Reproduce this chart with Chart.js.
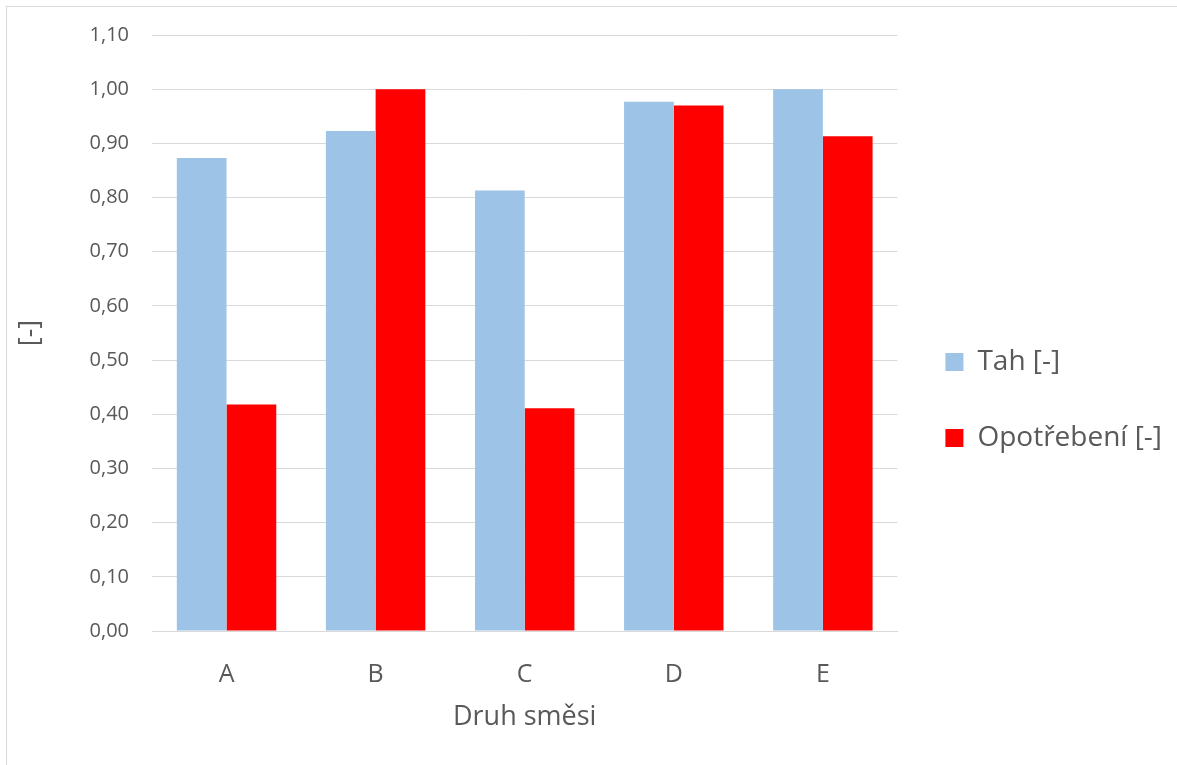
<!DOCTYPE html>
<html>
<head>
<meta charset="utf-8">
<script src="https://cdn.jsdelivr.net/npm/chart.js@4"></script>
<style>
  html, body { margin: 0; padding: 0; background: #fff; }
  .wrap { position: relative; width: 1177px; height: 765px; overflow: hidden; }
  .frame { position: absolute; left: 6px; top: 6px; width: 1300px; height: 900px; border: 1px solid #d9d9d9; }
  canvas { position: absolute; left: 0; top: 0; }
</style>
</head>
<body>
<div class="wrap">
  <div class="frame"></div>
  <canvas id="chart" width="1177" height="765"></canvas>
</div>
<script>
// data
const categories = ['A', 'B', 'C', 'D', 'E'];
const tahValues = [0.873, 0.923, 0.813, 0.977, 1.0];
const opotrebeniValues = [0.418, 1.0, 0.411, 0.970, 0.913];
const seriesNames = ['Tah [-]', 'Opotřebení [-]'];

const textColor = '#595959';
const gridColor = '#d9d9d9';
const fontFamily = "'Open Sans', sans-serif";

const ctx = document.getElementById('chart').getContext('2d');

new Chart(ctx, {
    type: 'bar',
    data: {
        labels: categories,
        datasets: [
            {
                label: seriesNames[0],
                data: tahValues,
                backgroundColor: '#9dc3e6',
            },
            {
                label: seriesNames[1],
                data: opotrebeniValues,
                backgroundColor: '#ff0000',
            },
        ],
    },
    options: {
        responsive: false,
        animation: false,
        categoryPercentage: 0.667,
        barPercentage: 1.0,
        layout: {
            padding: { top: 35, left: 0, bottom: 0, right: 5 },
        },
        plugins: {
            tooltip: { enabled: false },
            legend: {
                position: 'right',
                labels: {
                    boxWidth: 18,
                    boxHeight: 18,
                    padding: 48,
                    color: textColor,
                    font: { family: fontFamily, size: 28 },
                },
            },
        },
        scales: {
            x: {
                grid: { display: false, drawTicks: false },
                border: { color: gridColor, width: 1 },
                ticks: {
                    color: textColor,
                    padding: 29,
                    font: { family: fontFamily, size: 25 },
                },
                title: {
                    display: true,
                    text: 'Druh směsi',
                    color: textColor,
                    font: { family: fontFamily, size: 27 },
                    padding: { top: 10, bottom: 31 },
                },
                afterFit: (scale) => { scale.height = 134; },
            },
            y: {
                min: 0,
                max: 1.1,
                grid: { color: gridColor, drawTicks: false },
                border: { display: false },
                ticks: {
                    stepSize: 0.1,
                    color: textColor,
                    padding: 23,
                    font: { family: fontFamily, size: 20 },
                    callback: (v) => Number(v).toFixed(2).replace('.', ','),
                },
                title: {
                    display: true,
                    text: '[-]',
                    color: textColor,
                    font: { family: fontFamily, size: 27 },
                    padding: { top: 14, bottom: 0 },
                },
                afterFit: (scale) => { scale.width = 152; },
            },
        },
    },
});
</script>
</body>
</html>
